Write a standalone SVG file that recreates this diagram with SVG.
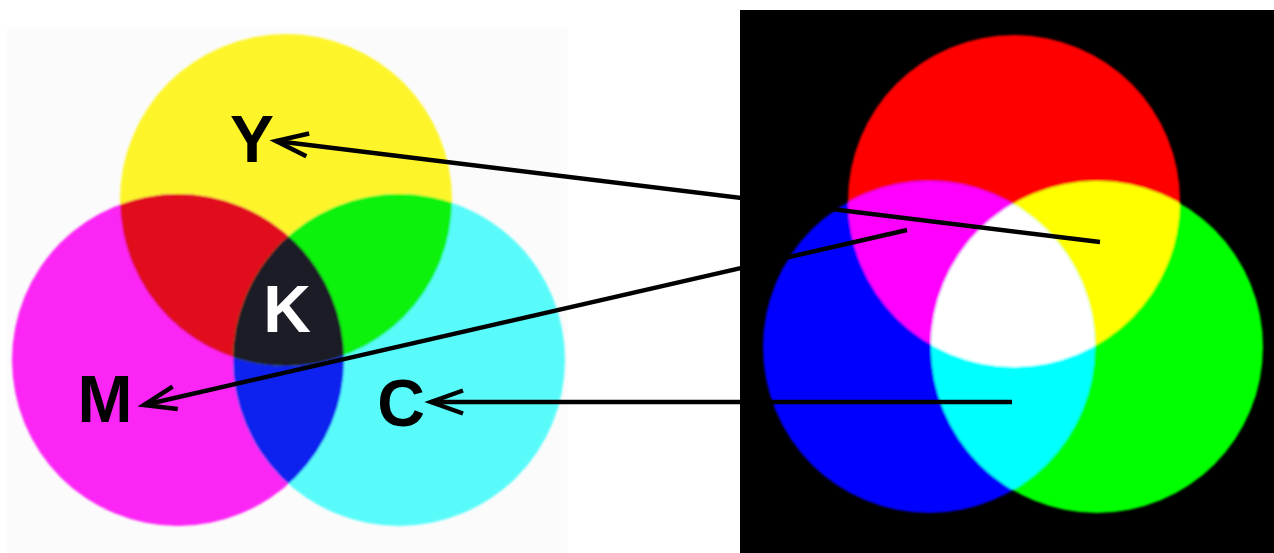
<svg xmlns="http://www.w3.org/2000/svg" width="1274" height="553" viewBox="0 0 1274 553">
<style>
.lbl{font-family:"Liberation Sans",Arial,sans-serif;font-weight:bold;font-size:66px;text-anchor:middle}
.conn{stroke:#000;stroke-width:4.5;fill:none}
</style>
<defs>
<clipPath id="cY"><circle cx="286" cy="200" r="166"/></clipPath>
<clipPath id="cM"><circle cx="178" cy="360" r="166"/></clipPath>
<clipPath id="cR"><circle cx="1014" cy="201" r="166"/></clipPath>
<clipPath id="cB"><circle cx="929" cy="347" r="166"/></clipPath>
<filter id="soft" x="-5%" y="-5%" width="110%" height="110%"><feGaussianBlur stdDeviation="1.3"/></filter>
<marker id="chev" markerUnits="userSpaceOnUse" viewBox="-40 -20 50 40" refX="0" refY="0" markerWidth="50" markerHeight="40" orient="auto">
<path d="M -32 -11.5 L 0 0 L -32 11.5" fill="none" stroke="#000" stroke-width="4.5" stroke-linejoin="miter"/>
</marker>
</defs>
<rect width="1274" height="553" fill="#ffffff"/>
<rect x="7" y="28" width="561" height="525" fill="#fbfbfb" filter="url(#soft)"/>
<g id="cmy" filter="url(#soft)">
<circle cx="286" cy="200" r="166" fill="#fdf52c"/>
<circle cx="178" cy="360" r="166" fill="#fb27f5"/>
<circle cx="399" cy="360" r="166" fill="#58fbfa"/>
<circle cx="399" cy="360" r="166" fill="#1024ee" clip-path="url(#cM)"/>
<circle cx="178" cy="360" r="166" fill="#e20a1f" clip-path="url(#cY)"/>
<circle cx="399" cy="360" r="166" fill="#0cf20c" clip-path="url(#cY)"/>
<g clip-path="url(#cY)"><circle cx="399" cy="360" r="166" fill="#1f1d25" clip-path="url(#cM)"/></g>
</g>
<rect x="740" y="10" width="534" height="543" fill="#000"/>
<g id="rgb" filter="url(#soft)">
<circle cx="1014" cy="201" r="166" fill="#ff0000"/>
<circle cx="929" cy="347" r="166" fill="#0000ff"/>
<circle cx="1097" cy="347" r="166" fill="#00ff00"/>
<circle cx="929" cy="347" r="166" fill="#ff00ff" clip-path="url(#cR)"/>
<circle cx="1097" cy="347" r="166" fill="#ffff00" clip-path="url(#cR)"/>
<circle cx="1097" cy="347" r="166" fill="#00ffff" clip-path="url(#cB)"/>
<g clip-path="url(#cR)"><circle cx="1097" cy="347" r="166" fill="#ffffff" clip-path="url(#cB)"/></g>
</g>
<g id="label-Y"><text class="lbl" x="252" y="162" fill="#000">Y</text></g>
<g id="label-K"><text class="lbl" x="287" y="332" fill="#fff">K</text></g>
<g id="label-M"><text class="lbl" x="105" y="422" fill="#000">M</text></g>
<g id="label-C"><text class="lbl" x="401" y="426" fill="#000">C</text></g>
<g id="connectors">
<line class="conn" x1="1100" y1="242" x2="276" y2="141" marker-end="url(#chev)"/>
<line class="conn" x1="907" y1="230" x2="144" y2="405" marker-end="url(#chev)"/>
<line class="conn" x1="1012" y1="402" x2="431" y2="402" marker-end="url(#chev)"/>
</g>
</svg>
